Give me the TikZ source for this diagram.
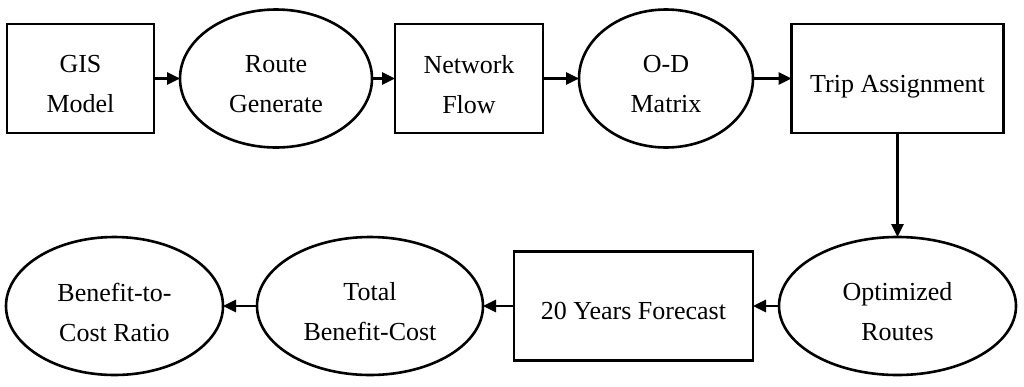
\documentclass[tikz,border=0pt]{standalone}
\usepackage{fontspec}
\setmainfont{Liberation Serif}
\usetikzlibrary{arrows.meta,shapes.geometric}
\begin{document}
\begin{tikzpicture}[x=1pt,y=-1pt,
  shp/.style={draw=black,line width=2.6pt,inner sep=0pt,outer sep=0pt},
  rbox/.style={shp,rectangle},
  ebox/.style={shp,ellipse},
  lbl/.style={font=\fontsize{26}{40}\selectfont,align=center,inner sep=0pt,yshift=-6pt},
  arr/.style={line width=2.6pt,-{Triangle[length=13pt,width=12pt]}},
]
\fill[white] (0,0) rectangle (1024,386);
\useasboundingbox (0,0) rectangle (1024,386);
% top row
\node[rbox,minimum width=147pt,minimum height=109pt] (gis) at (80.5,78.5) {};
\node[ebox,minimum width=192pt,minimum height=138pt] (route) at (276,78.5) {};
\node[rbox,minimum width=148pt,minimum height=109pt] (net) at (469,78.5) {};
\node[ebox,minimum width=174pt,minimum height=138pt] (od) at (666,78.5) {};
\node[rbox,minimum width=212pt,minimum height=109pt] (trip) at (897.5,78.5) {};
% bottom row
\node[ebox,minimum width=237pt,minimum height=138pt] (opt) at (897.5,306) {};
\node[rbox,minimum width=239pt,minimum height=109pt] (fc) at (633.5,306) {};
\node[ebox,minimum width=226pt,minimum height=138pt] (tot) at (370,306) {};
\node[ebox,minimum width=217pt,minimum height=138pt] (bc) at (114.5,306) {};
% labels
\node[lbl] (gist) at (gis.center) {GIS\\Model};
\node[lbl] (routet) at (route.center) {Route\\Generate};
\node[lbl] (nett) at (net.center) {Network\\Flow};
\node[lbl] (odt) at (od.center) {O-D\\Matrix};
\node[lbl,yshift=-2pt] (tript) at (trip.center) {Trip Assignment};
\node[lbl] (optt) at (opt.center) {Optimized\\Routes};
\node[lbl,yshift=1pt] (fct) at (fc.center) {20 Years Forecast};
\node[lbl] (tott) at (tot.center) {Total\\Benefit-Cost};
\node[lbl] (bct) at (bc.center) {Benefit-to-\\Cost Ratio};
% connectors
\draw[arr] (gis.east) -- (route.west);
\draw[arr] (route.east) -- (net.west);
\draw[arr] (net.east) -- (od.west);
\draw[arr] (od.east) -- (trip.west);
\draw[arr] (trip.south) -- (opt.north);
\draw[arr] (opt.west) -- (fc.east);
\draw[arr] (fc.west) -- (tot.east);
\draw[arr] (tot.west) -- (bc.east);
\end{tikzpicture}
\end{document}
